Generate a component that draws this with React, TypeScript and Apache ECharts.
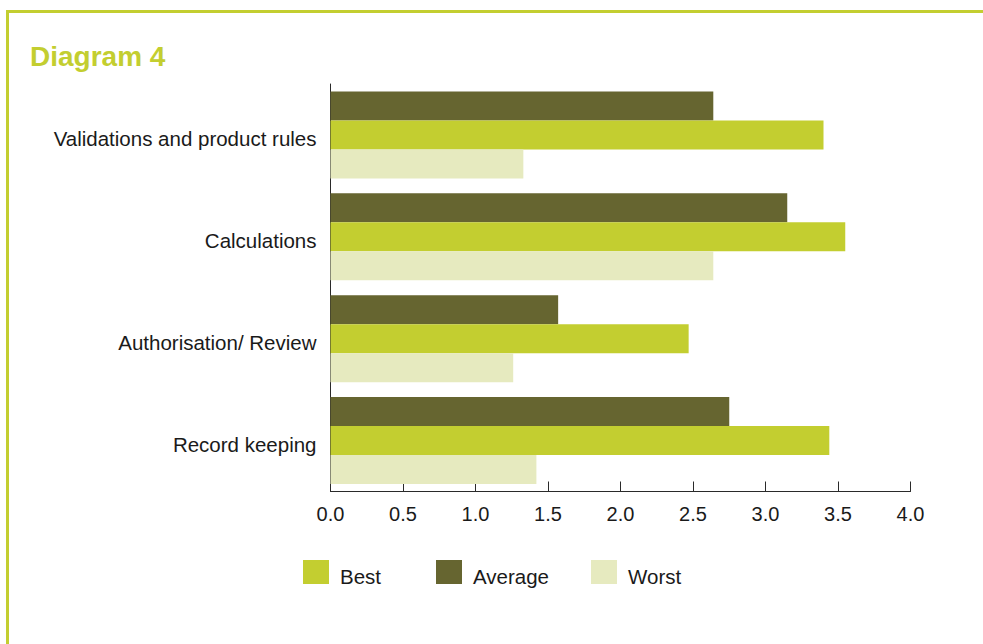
import React, { useEffect, useRef } from "react";
import * as echarts from "echarts";

// Scores per process area
const categories = [
  "Validations and product rules",
  "Calculations",
  "Authorisation/ Review",
  "Record keeping",
];
const averageScores = [2.64, 3.15, 1.57, 2.75];
const bestScores = [3.4, 3.55, 2.47, 3.44];
const worstScores = [1.33, 2.64, 1.26, 1.42];
const xTicks = [0, 0.5, 1, 1.5, 2, 2.5, 3, 3.5, 4];

const LIME = "#c3ce30";
const OLIVE = "#666530";
const PALE = "#e6eabf";
const FONT = "'Liberation Sans', Arial, Helvetica, sans-serif";

// Text nudged a few pixels below its anchor by an empty first line
const loweredRich = {
  gap: { fontSize: 4, lineHeight: 8 },
  t: { fontFamily: FONT, fontSize: 20.5, lineHeight: 22, color: "#1a1a1a" },
};

export default function App() {
  const ref = useRef<HTMLDivElement>(null);

  useEffect(() => {
    if (!ref.current) return;
    const chart = echarts.init(ref.current, undefined, { renderer: "svg" });

    const legendItem = (name: string, left: number) => ({
      data: [name],
      left,
      top: 559,
      padding: 0,
      itemWidth: 26,
      itemHeight: 24,
      itemGap: 0,
      selectedMode: false,
      icon: "rect",
      formatter: (n: string) => `{gap| }\n{t|${n}}`,
      textStyle: {
        fontFamily: FONT,
        fontSize: 20,
        color: "#1a1a1a",
        padding: [0, 0, 0, 6],
        rich: loweredRich,
      },
    });

    chart.setOption({
      animation: false,
      backgroundColor: "#ffffff",
      textStyle: { fontFamily: FONT },
      grid: { left: 330.5, right: 72.5, top: 84, bottom: 152.5, containLabel: false },
      legend: [legendItem("Best", 303), legendItem("Average", 436), legendItem("Worst", 591)],
      xAxis: {
        type: "value",
        min: 0,
        max: 4,
        interval: 0.5,
        splitLine: { show: false },
        axisLine: { show: true, lineStyle: { color: "#2a2a2a", width: 1 } },
        axisTick: { show: true, inside: true, length: 10, lineStyle: { color: "#2a2a2a" } },
        axisLabel: {
          fontFamily: FONT,
          fontSize: 20,
          color: "#1a1a1a",
          margin: 12,
          formatter: (v: number) => (xTicks.includes(v) ? v.toFixed(1) : ""),
        },
      },
      yAxis: {
        type: "category",
        inverse: true,
        data: categories,
        axisLine: { show: true, lineStyle: { color: "#2a2a2a", width: 1 } },
        axisTick: { show: false },
        axisLabel: {
          margin: 14,
          formatter: (v: string) => `{gap| }\n{t|${v}}`,
          rich: loweredRich,
        },
      },
      series: [
        {
          name: "Average",
          type: "bar",
          data: averageScores,
          itemStyle: { color: OLIVE },
          barGap: "0%",
          barCategoryGap: "14.5%",
        },
        {
          name: "Best",
          type: "bar",
          data: bestScores,
          itemStyle: { color: LIME },
          barGap: "0%",
          barCategoryGap: "14.5%",
        },
        {
          name: "Worst",
          type: "bar",
          data: worstScores,
          itemStyle: { color: PALE },
          barGap: "0%",
          barCategoryGap: "14.5%",
        },
      ],
      graphic: [
        { type: "rect", shape: { x: 6, y: 10, width: 977, height: 3 }, style: { fill: LIME } },
        { type: "rect", shape: { x: 6, y: 10, width: 3, height: 634 }, style: { fill: LIME } },
        {
          type: "text",
          x: 30,
          y: 56,
          style: {
            text: "Diagram 4",
            fill: LIME,
            font: `bold 28px ${FONT}`,
            verticalAlign: "middle",
          },
        },
      ],
    });

    return () => chart.dispose();
  }, []);

  return (
    <div
      ref={ref}
      style={{ position: "fixed", left: 0, top: 0, width: 983, height: 644 }}
    />
  );
}
